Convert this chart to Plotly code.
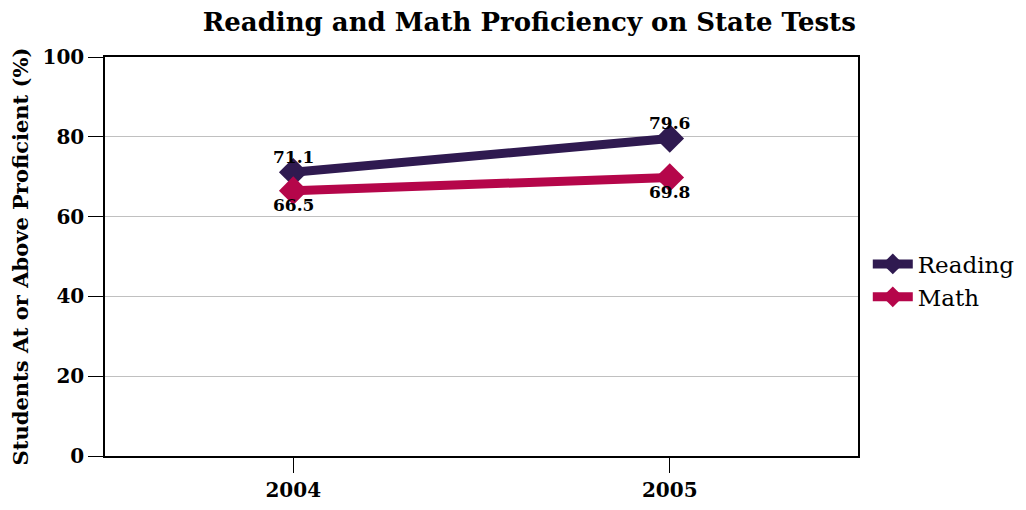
import plotly.graph_objects as go

years = ["2004", "2005"]
reading = [71.1, 79.6]
math_vals = [66.5, 69.8]

FONT = "DejaVu Serif"
READ_C = "#2f1a50"
MATH_C = "#b5064a"

fig = go.Figure()
fig.add_trace(go.Scatter(
    x=years, y=reading, name="Reading", mode="lines+markers",
    line=dict(color=READ_C, width=9),
    marker=dict(symbol="diamond", size=22, color=READ_C),
))
fig.add_trace(go.Scatter(
    x=years, y=math_vals, name="Math", mode="lines+markers",
    line=dict(color=MATH_C, width=9),
    marker=dict(symbol="diamond", size=22, color=MATH_C),
))

for ys, shift in [(reading, 15), (math_vals, -14)]:
    for i, yv in enumerate(ys):
        fig.add_annotation(x=i, y=yv, xref="x", yref="y", text=f"{yv:.1f}",
                           showarrow=False, yshift=shift,
                           font=dict(family=FONT, size=17, color="black", weight="bold"))

fig.update_layout(
    width=1026, height=510,
    margin=dict(l=97, r=176, t=49, b=62, autoexpand=False),
    paper_bgcolor="white", plot_bgcolor="white",
    font=dict(family=FONT, color="black", size=18),
    title=dict(text="Reading and Math Proficiency on State Tests", x=0.508, xanchor="center",
               y=0.972, yanchor="middle",
               font=dict(family=FONT, size=26, color="black", weight="bold")),
    xaxis=dict(type="category", range=[-0.5, 1.5], showline=True, linecolor="black", linewidth=1.5,
               mirror=True, ticks="outside", ticklen=15, tickcolor="black", showgrid=False,
               tickfont=dict(family=FONT, size=20, weight="bold")),
    yaxis=dict(range=[0, 100], dtick=20, showline=True, linecolor="black", linewidth=1.5,
               mirror=True, ticks="outside", ticklen=15, tickcolor="black",
               showgrid=True, gridcolor="#c0c0c0", gridwidth=1, zeroline=False,
               tickfont=dict(family=FONT, size=20, weight="bold"),
               title=dict(text="Students At or Above Proficient (%)", standoff=10,
                          font=dict(family=FONT, size=21, weight="bold"))),
    legend=dict(x=1.013, xanchor="left", y=0.44, yanchor="middle",
                font=dict(family=FONT, size=23), itemwidth=40,
                tracegroupgap=4),
    showlegend=True,
)

fig.write_html("out.html")
